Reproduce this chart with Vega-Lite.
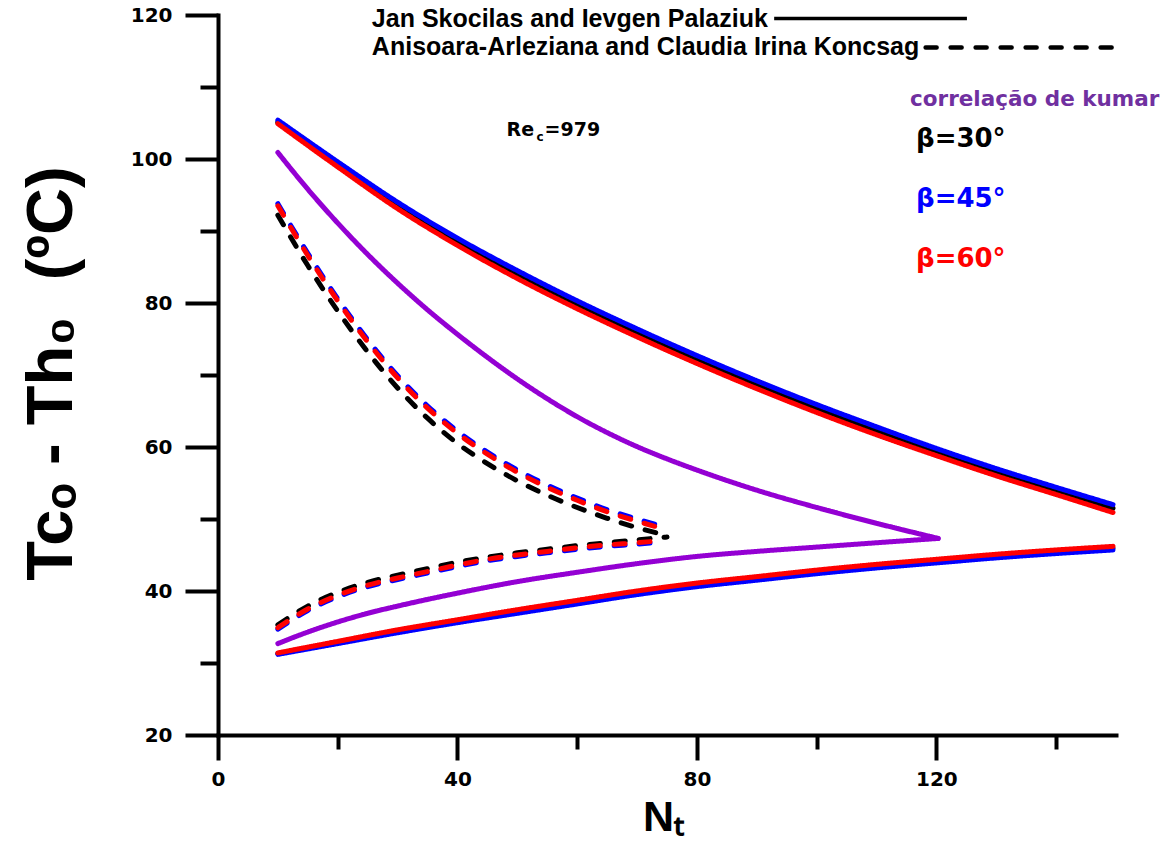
{
"$schema":"https://vega.github.io/schema/vega-lite/v6.json",
"width":898,"height":720,
"autosize":{"type":"none"},
"padding":{"left":218,"top":15,"right":46,"bottom":110},
"background":"white",
"config":{"view":{"stroke":null}},
"datasets":{"curves":[
{"series":"JS30u","src":"JS","beta":"30","Nt":10,"dT":105.1},{"series":"JS30u","src":"JS","beta":"30","Nt":20,"dT":99.2},{"series":"JS30u","src":"JS","beta":"30","Nt":30,"dT":93.5},{"series":"JS30u","src":"JS","beta":"30","Nt":40,"dT":88.5},{"series":"JS30u","src":"JS","beta":"30","Nt":50,"dT":84.0},{"series":"JS30u","src":"JS","beta":"30","Nt":60,"dT":79.8},{"series":"JS30u","src":"JS","beta":"30","Nt":70,"dT":75.9},{"series":"JS30u","src":"JS","beta":"30","Nt":80,"dT":72.2},{"series":"JS30u","src":"JS","beta":"30","Nt":90,"dT":68.7},{"series":"JS30u","src":"JS","beta":"30","Nt":100,"dT":65.4},{"series":"JS30u","src":"JS","beta":"30","Nt":110,"dT":62.3},{"series":"JS30u","src":"JS","beta":"30","Nt":120,"dT":59.3},{"series":"JS30u","src":"JS","beta":"30","Nt":130,"dT":56.5},{"series":"JS30u","src":"JS","beta":"30","Nt":140,"dT":53.9},{"series":"JS30u","src":"JS","beta":"30","Nt":149.5,"dT":51.5},
{"series":"JS30l","src":"JS","beta":"30","Nt":10,"dT":31.3},{"series":"JS30l","src":"JS","beta":"30","Nt":20,"dT":32.85},{"series":"JS30l","src":"JS","beta":"30","Nt":30,"dT":34.4},{"series":"JS30l","src":"JS","beta":"30","Nt":40,"dT":35.8},{"series":"JS30l","src":"JS","beta":"30","Nt":50,"dT":37.15},{"series":"JS30l","src":"JS","beta":"30","Nt":60,"dT":38.45},{"series":"JS30l","src":"JS","beta":"30","Nt":70,"dT":39.75},{"series":"JS30l","src":"JS","beta":"30","Nt":80,"dT":40.85},{"series":"JS30l","src":"JS","beta":"30","Nt":90,"dT":41.75},{"series":"JS30l","src":"JS","beta":"30","Nt":100,"dT":42.65},{"series":"JS30l","src":"JS","beta":"30","Nt":110,"dT":43.45},{"series":"JS30l","src":"JS","beta":"30","Nt":120,"dT":44.15},{"series":"JS30l","src":"JS","beta":"30","Nt":130,"dT":44.85},{"series":"JS30l","src":"JS","beta":"30","Nt":140,"dT":45.45},{"series":"JS30l","src":"JS","beta":"30","Nt":149.5,"dT":45.95},
{"series":"AC30u","src":"AC","beta":"30","Nt":10,"dT":92.2},{"series":"AC30u","src":"AC","beta":"30","Nt":15,"dT":85.2},{"series":"AC30u","src":"AC","beta":"30","Nt":20,"dT":78.9},{"series":"AC30u","src":"AC","beta":"30","Nt":25,"dT":73.2},{"series":"AC30u","src":"AC","beta":"30","Nt":30,"dT":68.2},{"series":"AC30u","src":"AC","beta":"30","Nt":35,"dT":64.0},{"series":"AC30u","src":"AC","beta":"30","Nt":40,"dT":60.5},{"series":"AC30u","src":"AC","beta":"30","Nt":45,"dT":57.7},{"series":"AC30u","src":"AC","beta":"30","Nt":50,"dT":55.3},{"series":"AC30u","src":"AC","beta":"30","Nt":55,"dT":53.3},{"series":"AC30u","src":"AC","beta":"30","Nt":60,"dT":51.6},{"series":"AC30u","src":"AC","beta":"30","Nt":65,"dT":50.1},{"series":"AC30u","src":"AC","beta":"30","Nt":70,"dT":48.8},{"series":"AC30u","src":"AC","beta":"30","Nt":75,"dT":47.7},
{"series":"AC30l","src":"AC","beta":"30","Nt":10,"dT":35.3},{"series":"AC30l","src":"AC","beta":"30","Nt":15,"dT":37.9},{"series":"AC30l","src":"AC","beta":"30","Nt":20,"dT":39.8},{"series":"AC30l","src":"AC","beta":"30","Nt":25,"dT":41.2},{"series":"AC30l","src":"AC","beta":"30","Nt":30,"dT":42.2},{"series":"AC30l","src":"AC","beta":"30","Nt":35,"dT":43.1},{"series":"AC30l","src":"AC","beta":"30","Nt":40,"dT":44.0},{"series":"AC30l","src":"AC","beta":"30","Nt":45,"dT":44.7},{"series":"AC30l","src":"AC","beta":"30","Nt":50,"dT":45.3},{"series":"AC30l","src":"AC","beta":"30","Nt":55,"dT":45.8},{"series":"AC30l","src":"AC","beta":"30","Nt":60,"dT":46.3},{"series":"AC30l","src":"AC","beta":"30","Nt":65,"dT":46.7},{"series":"AC30l","src":"AC","beta":"30","Nt":70,"dT":47.1},{"series":"AC30l","src":"AC","beta":"30","Nt":75,"dT":47.5},
{"series":"JS45u","src":"JS","beta":"45","Nt":10,"dT":105.4},{"series":"JS45u","src":"JS","beta":"45","Nt":20,"dT":99.6},{"series":"JS45u","src":"JS","beta":"45","Nt":30,"dT":94.0},{"series":"JS45u","src":"JS","beta":"45","Nt":40,"dT":89.0},{"series":"JS45u","src":"JS","beta":"45","Nt":50,"dT":84.5},{"series":"JS45u","src":"JS","beta":"45","Nt":60,"dT":80.3},{"series":"JS45u","src":"JS","beta":"45","Nt":70,"dT":76.4},{"series":"JS45u","src":"JS","beta":"45","Nt":80,"dT":72.7},{"series":"JS45u","src":"JS","beta":"45","Nt":90,"dT":69.2},{"series":"JS45u","src":"JS","beta":"45","Nt":100,"dT":65.9},{"series":"JS45u","src":"JS","beta":"45","Nt":110,"dT":62.8},{"series":"JS45u","src":"JS","beta":"45","Nt":120,"dT":59.8},{"series":"JS45u","src":"JS","beta":"45","Nt":130,"dT":57.0},{"series":"JS45u","src":"JS","beta":"45","Nt":140,"dT":54.4},{"series":"JS45u","src":"JS","beta":"45","Nt":149.5,"dT":52.0},
{"series":"JS45l","src":"JS","beta":"45","Nt":10,"dT":31.2},{"series":"JS45l","src":"JS","beta":"45","Nt":20,"dT":32.7},{"series":"JS45l","src":"JS","beta":"45","Nt":30,"dT":34.2},{"series":"JS45l","src":"JS","beta":"45","Nt":40,"dT":35.6},{"series":"JS45l","src":"JS","beta":"45","Nt":50,"dT":36.9},{"series":"JS45l","src":"JS","beta":"45","Nt":60,"dT":38.2},{"series":"JS45l","src":"JS","beta":"45","Nt":70,"dT":39.5},{"series":"JS45l","src":"JS","beta":"45","Nt":80,"dT":40.6},{"series":"JS45l","src":"JS","beta":"45","Nt":90,"dT":41.5},{"series":"JS45l","src":"JS","beta":"45","Nt":100,"dT":42.4},{"series":"JS45l","src":"JS","beta":"45","Nt":110,"dT":43.2},{"series":"JS45l","src":"JS","beta":"45","Nt":120,"dT":43.9},{"series":"JS45l","src":"JS","beta":"45","Nt":130,"dT":44.6},{"series":"JS45l","src":"JS","beta":"45","Nt":140,"dT":45.2},{"series":"JS45l","src":"JS","beta":"45","Nt":149.5,"dT":45.7},
{"series":"AC45u","src":"AC","beta":"45","Nt":10,"dT":93.8},{"series":"AC45u","src":"AC","beta":"45","Nt":15,"dT":86.9},{"series":"AC45u","src":"AC","beta":"45","Nt":20,"dT":80.6},{"series":"AC45u","src":"AC","beta":"45","Nt":25,"dT":74.9},{"series":"AC45u","src":"AC","beta":"45","Nt":30,"dT":69.9},{"series":"AC45u","src":"AC","beta":"45","Nt":35,"dT":65.7},{"series":"AC45u","src":"AC","beta":"45","Nt":40,"dT":62.2},{"series":"AC45u","src":"AC","beta":"45","Nt":45,"dT":59.3},{"series":"AC45u","src":"AC","beta":"45","Nt":50,"dT":56.8},{"series":"AC45u","src":"AC","beta":"45","Nt":55,"dT":54.7},{"series":"AC45u","src":"AC","beta":"45","Nt":60,"dT":52.9},{"series":"AC45u","src":"AC","beta":"45","Nt":65,"dT":51.3},{"series":"AC45u","src":"AC","beta":"45","Nt":70,"dT":50.0},{"series":"AC45u","src":"AC","beta":"45","Nt":75,"dT":48.8},
{"series":"AC45l","src":"AC","beta":"45","Nt":10,"dT":34.7},{"series":"AC45l","src":"AC","beta":"45","Nt":15,"dT":37.3},{"series":"AC45l","src":"AC","beta":"45","Nt":20,"dT":39.2},{"series":"AC45l","src":"AC","beta":"45","Nt":25,"dT":40.6},{"series":"AC45l","src":"AC","beta":"45","Nt":30,"dT":41.6},{"series":"AC45l","src":"AC","beta":"45","Nt":35,"dT":42.5},{"series":"AC45l","src":"AC","beta":"45","Nt":40,"dT":43.4},{"series":"AC45l","src":"AC","beta":"45","Nt":45,"dT":44.2},{"series":"AC45l","src":"AC","beta":"45","Nt":50,"dT":44.8},{"series":"AC45l","src":"AC","beta":"45","Nt":55,"dT":45.3},{"series":"AC45l","src":"AC","beta":"45","Nt":60,"dT":45.8},{"series":"AC45l","src":"AC","beta":"45","Nt":65,"dT":46.2},{"series":"AC45l","src":"AC","beta":"45","Nt":70,"dT":46.5},{"series":"AC45l","src":"AC","beta":"45","Nt":74,"dT":46.8},
{"series":"JS60u","src":"JS","beta":"60","Nt":10,"dT":104.9},{"series":"JS60u","src":"JS","beta":"60","Nt":20,"dT":98.9},{"series":"JS60u","src":"JS","beta":"60","Nt":30,"dT":93.1},{"series":"JS60u","src":"JS","beta":"60","Nt":40,"dT":88.0},{"series":"JS60u","src":"JS","beta":"60","Nt":50,"dT":83.4},{"series":"JS60u","src":"JS","beta":"60","Nt":60,"dT":79.2},{"series":"JS60u","src":"JS","beta":"60","Nt":70,"dT":75.3},{"series":"JS60u","src":"JS","beta":"60","Nt":80,"dT":71.6},{"series":"JS60u","src":"JS","beta":"60","Nt":90,"dT":68.1},{"series":"JS60u","src":"JS","beta":"60","Nt":100,"dT":64.8},{"series":"JS60u","src":"JS","beta":"60","Nt":110,"dT":61.7},{"series":"JS60u","src":"JS","beta":"60","Nt":120,"dT":58.8},{"series":"JS60u","src":"JS","beta":"60","Nt":130,"dT":56.0},{"series":"JS60u","src":"JS","beta":"60","Nt":140,"dT":53.4},{"series":"JS60u","src":"JS","beta":"60","Nt":149.5,"dT":50.9},
{"series":"JS60l","src":"JS","beta":"60","Nt":10,"dT":31.4},{"series":"JS60l","src":"JS","beta":"60","Nt":20,"dT":33.0},{"series":"JS60l","src":"JS","beta":"60","Nt":30,"dT":34.6},{"series":"JS60l","src":"JS","beta":"60","Nt":40,"dT":36.0},{"series":"JS60l","src":"JS","beta":"60","Nt":50,"dT":37.4},{"series":"JS60l","src":"JS","beta":"60","Nt":60,"dT":38.7},{"series":"JS60l","src":"JS","beta":"60","Nt":70,"dT":40.0},{"series":"JS60l","src":"JS","beta":"60","Nt":80,"dT":41.1},{"series":"JS60l","src":"JS","beta":"60","Nt":90,"dT":42.0},{"series":"JS60l","src":"JS","beta":"60","Nt":100,"dT":42.9},{"series":"JS60l","src":"JS","beta":"60","Nt":110,"dT":43.7},{"series":"JS60l","src":"JS","beta":"60","Nt":120,"dT":44.4},{"series":"JS60l","src":"JS","beta":"60","Nt":130,"dT":45.1},{"series":"JS60l","src":"JS","beta":"60","Nt":140,"dT":45.7},{"series":"JS60l","src":"JS","beta":"60","Nt":149.5,"dT":46.2},
{"series":"AC60u","src":"AC","beta":"60","Nt":10,"dT":93.5},{"series":"AC60u","src":"AC","beta":"60","Nt":15,"dT":86.6},{"series":"AC60u","src":"AC","beta":"60","Nt":20,"dT":80.3},{"series":"AC60u","src":"AC","beta":"60","Nt":25,"dT":74.6},{"series":"AC60u","src":"AC","beta":"60","Nt":30,"dT":69.6},{"series":"AC60u","src":"AC","beta":"60","Nt":35,"dT":65.4},{"series":"AC60u","src":"AC","beta":"60","Nt":40,"dT":61.9},{"series":"AC60u","src":"AC","beta":"60","Nt":45,"dT":59.0},{"series":"AC60u","src":"AC","beta":"60","Nt":50,"dT":56.5},{"series":"AC60u","src":"AC","beta":"60","Nt":55,"dT":54.4},{"series":"AC60u","src":"AC","beta":"60","Nt":60,"dT":52.6},{"series":"AC60u","src":"AC","beta":"60","Nt":65,"dT":51.0},{"series":"AC60u","src":"AC","beta":"60","Nt":70,"dT":49.7},{"series":"AC60u","src":"AC","beta":"60","Nt":75,"dT":48.5},
{"series":"AC60l","src":"AC","beta":"60","Nt":10,"dT":34.9},{"series":"AC60l","src":"AC","beta":"60","Nt":15,"dT":37.5},{"series":"AC60l","src":"AC","beta":"60","Nt":20,"dT":39.4},{"series":"AC60l","src":"AC","beta":"60","Nt":25,"dT":40.8},{"series":"AC60l","src":"AC","beta":"60","Nt":30,"dT":41.8},{"series":"AC60l","src":"AC","beta":"60","Nt":35,"dT":42.7},{"series":"AC60l","src":"AC","beta":"60","Nt":40,"dT":43.6},{"series":"AC60l","src":"AC","beta":"60","Nt":45,"dT":44.4},{"series":"AC60l","src":"AC","beta":"60","Nt":50,"dT":45.0},{"series":"AC60l","src":"AC","beta":"60","Nt":55,"dT":45.5},{"series":"AC60l","src":"AC","beta":"60","Nt":60,"dT":46.0},{"series":"AC60l","src":"AC","beta":"60","Nt":65,"dT":46.4},{"series":"AC60l","src":"AC","beta":"60","Nt":70,"dT":46.7},{"series":"AC60l","src":"AC","beta":"60","Nt":74,"dT":47.0},
{"series":"Ku","src":"Kumar","beta":"Kumar","Nt":10,"dT":100.9},{"series":"Ku","src":"Kumar","beta":"Kumar","Nt":15,"dT":95.8},{"series":"Ku","src":"Kumar","beta":"Kumar","Nt":20,"dT":91.1},{"series":"Ku","src":"Kumar","beta":"Kumar","Nt":25,"dT":86.75},{"series":"Ku","src":"Kumar","beta":"Kumar","Nt":30,"dT":82.75},{"series":"Ku","src":"Kumar","beta":"Kumar","Nt":35,"dT":79.05},{"series":"Ku","src":"Kumar","beta":"Kumar","Nt":40,"dT":75.65},{"series":"Ku","src":"Kumar","beta":"Kumar","Nt":45,"dT":72.45},{"series":"Ku","src":"Kumar","beta":"Kumar","Nt":50,"dT":69.45},{"series":"Ku","src":"Kumar","beta":"Kumar","Nt":55,"dT":66.7},{"series":"Ku","src":"Kumar","beta":"Kumar","Nt":60,"dT":64.2},{"series":"Ku","src":"Kumar","beta":"Kumar","Nt":65,"dT":62.0},{"series":"Ku","src":"Kumar","beta":"Kumar","Nt":70,"dT":60.05},{"series":"Ku","src":"Kumar","beta":"Kumar","Nt":75,"dT":58.35},{"series":"Ku","src":"Kumar","beta":"Kumar","Nt":80,"dT":56.8},{"series":"Ku","src":"Kumar","beta":"Kumar","Nt":90,"dT":54.0},{"series":"Ku","src":"Kumar","beta":"Kumar","Nt":100,"dT":51.6},{"series":"Ku","src":"Kumar","beta":"Kumar","Nt":110,"dT":49.4},{"series":"Ku","src":"Kumar","beta":"Kumar","Nt":120.3,"dT":47.3},
{"series":"Kl","src":"Kumar","beta":"Kumar","Nt":10,"dT":32.7},{"series":"Kl","src":"Kumar","beta":"Kumar","Nt":15,"dT":34.3},{"series":"Kl","src":"Kumar","beta":"Kumar","Nt":20,"dT":35.7},{"series":"Kl","src":"Kumar","beta":"Kumar","Nt":25,"dT":36.9},{"series":"Kl","src":"Kumar","beta":"Kumar","Nt":30,"dT":37.9},{"series":"Kl","src":"Kumar","beta":"Kumar","Nt":40,"dT":39.7},{"series":"Kl","src":"Kumar","beta":"Kumar","Nt":50,"dT":41.3},{"series":"Kl","src":"Kumar","beta":"Kumar","Nt":60,"dT":42.6},{"series":"Kl","src":"Kumar","beta":"Kumar","Nt":70,"dT":43.8},{"series":"Kl","src":"Kumar","beta":"Kumar","Nt":80,"dT":44.8},{"series":"Kl","src":"Kumar","beta":"Kumar","Nt":90,"dT":45.5},{"series":"Kl","src":"Kumar","beta":"Kumar","Nt":100,"dT":46.1},{"series":"Kl","src":"Kumar","beta":"Kumar","Nt":110,"dT":46.7},{"series":"Kl","src":"Kumar","beta":"Kumar","Nt":120.3,"dT":47.3}
],"one":[{}]},
"layer":[
{"data":{"name":"curves"},
 "mark":{"type":"line","strokeWidth":5,"strokeCap":"round","strokeJoin":"round","interpolate":"monotone","clip":false},
 "encoding":{
  "x":{"field":"Nt","type":"quantitative","scale":{"domain":[0,150],"nice":false,"zero":false},
   "axis":{"values":[0,20,40,60,80,100,120,140],"labelExpr":"datum.value % 40 === 0 ? datum.label : ''",
    "tickSize":{"condition":{"test":"datum.value % 40 === 0","value":25},"value":14},
    "tickWidth":4,"tickColor":"black","domainWidth":4,"domainColor":"black","domainCap":"square","grid":false,
    "labelFont":"DejaVu Sans","labelFontWeight":"bold","labelFontSize":20,"labelColor":"black","labelPadding":9,"labelFlush":false,"labelOverlap":false,
    "title":"Nₜ","titleFont":"Liberation Sans","titleFontWeight":"bold","titleFontSize":43,"titleColor":"black",
    "titleX":445,"titleY":95,"titleAlign":"center","titleBaseline":"alphabetic"}},
  "y":{"field":"dT","type":"quantitative","scale":{"domain":[20,120],"nice":false,"zero":false},
   "axis":{"values":[20,30,40,50,60,70,80,90,100,110,120],"labelExpr":"datum.value % 20 === 0 ? datum.label : ''",
    "tickSize":{"condition":{"test":"datum.value % 20 === 0","value":33},"value":18},
    "tickWidth":4,"tickColor":"black","domainWidth":4,"domainColor":"black","domainCap":"square","grid":false,
    "labelFont":"DejaVu Sans","labelFontWeight":"bold","labelFontSize":20,"labelColor":"black","labelPadding":13,"labelFlush":false,"labelOverlap":false,
    "title":"Tcₒ - Th₀\u00a0 (ºC)","titleFont":"Liberation Sans","titleFontWeight":"bold","titleFontSize":65,"titleColor":"black",
    "titleAngle":270,"titleX":-147,"titleY":358,"titleAlign":"center","titleBaseline":"alphabetic"}},
  "color":{"field":"beta","type":"nominal","scale":{"domain":["30","45","60","Kumar"],"range":["#000000","#0000FF","#FF0000","#9400D3"]},"legend":null},
  "strokeDash":{"field":"src","type":"nominal","scale":{"domain":["JS","Kumar","AC"],"range":[[1,0],[1,0],[11,14]]},"legend":null},
  "strokeWidth":{"field":"src","type":"nominal","scale":{"domain":["JS","Kumar","AC"],"range":[5,4.5,5.5]},"legend":null},
  "detail":{"field":"series"}
 }},
{"data":{"name":"one"},"mark":{"type":"rule","strokeWidth":3.5,"color":"black","clip":false},
 "encoding":{"x":{"datum":92.9},"x2":{"datum":125.1},"y":{"datum":119.5}}},
{"data":{"name":"one"},"mark":{"type":"rule","strokeWidth":4.5,"color":"black","strokeDash":[11,14],"strokeCap":"round","clip":false},
 "encoding":{"x":{"datum":118.2},"x2":{"datum":151.3},"y":{"datum":115.5}}},
{"data":{"name":"one"},"mark":{"type":"text","font":"Liberation Sans","fontWeight":"bold","fontSize":25,"align":"left","baseline":"middle","color":"black"},
 "encoding":{"x":{"datum":25.7},"y":{"datum":119.5},"text":{"value":"Jan Skocilas and Ievgen Palaziuk"}}},
{"data":{"name":"one"},"mark":{"type":"text","font":"Liberation Sans","fontWeight":"bold","fontSize":25,"align":"left","baseline":"middle","color":"black"},
 "encoding":{"x":{"datum":25.7},"y":{"datum":115.5},"text":{"value":"Anisoara-Arleziana and Claudia Irina Koncsag"}}},
{"data":{"name":"one"},"mark":{"type":"text","font":"DejaVu Sans","fontWeight":"bold","fontSize":21.5,"align":"left","baseline":"middle","color":"#7030A0"},
 "encoding":{"x":{"datum":115.6},"y":{"datum":108.2},"text":{"value":"correlação de kumar"}}},
{"data":{"name":"one"},"mark":{"type":"text","font":"DejaVu Sans","fontWeight":"bold","fontSize":26,"align":"left","baseline":"middle","color":"black"},
 "encoding":{"x":{"datum":116.6},"y":{"datum":102.8},"text":{"value":"β=30°"}}},
{"data":{"name":"one"},"mark":{"type":"text","font":"DejaVu Sans","fontWeight":"bold","fontSize":26,"align":"left","baseline":"middle","color":"#0000FF"},
 "encoding":{"x":{"datum":116.6},"y":{"datum":94.5},"text":{"value":"β=45°"}}},
{"data":{"name":"one"},"mark":{"type":"text","font":"DejaVu Sans","fontWeight":"bold","fontSize":26,"align":"left","baseline":"middle","color":"#FF0000"},
 "encoding":{"x":{"datum":116.6},"y":{"datum":86.1},"text":{"value":"β=60°"}}},
{"data":{"name":"one"},"mark":{"type":"text","font":"DejaVu Sans","fontWeight":"bold","fontSize":19,"align":"left","baseline":"alphabetic","color":"black"},
 "encoding":{"x":{"datum":48.2},"y":{"datum":103.2},"text":{"value":"Re"}}},
{"data":{"name":"one"},"mark":{"type":"text","font":"DejaVu Sans","fontWeight":"bold","fontSize":12,"align":"left","baseline":"alphabetic","color":"black","dx":30,"dy":5},
 "encoding":{"x":{"datum":48.2},"y":{"datum":103.2},"text":{"value":"c"}}},
{"data":{"name":"one"},"mark":{"type":"text","font":"DejaVu Sans","fontWeight":"bold","fontSize":19,"align":"left","baseline":"alphabetic","color":"black","dx":38},
 "encoding":{"x":{"datum":48.2},"y":{"datum":103.2},"text":{"value":"=979"}}}
]
}
